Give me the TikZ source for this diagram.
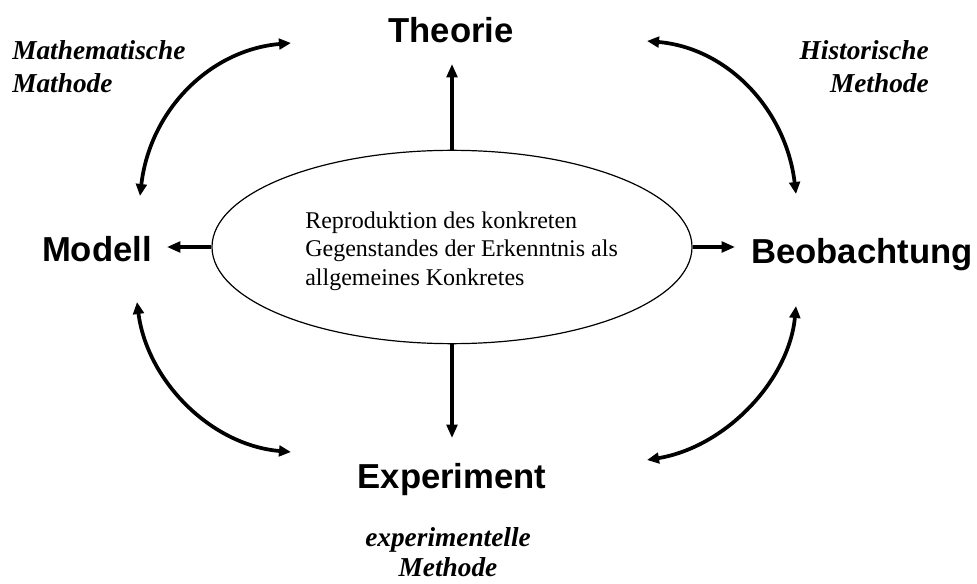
\documentclass[tikz,border=0pt]{standalone}
\usepackage{fontspec}
\setmainfont{Liberation Serif}
\newfontfamily\headfont{Liberation Sans}
\usetikzlibrary{arrows.meta,shapes.geometric}

\tikzset{
  heading/.style={font=\headfont\bfseries\fontsize{26}{30}\selectfont, inner sep=0pt, anchor=base},
  method/.style={font=\bfseries\itshape\fontsize{20.5}{24.8}\selectfont, inner sep=0pt},
  core/.style={draw, ellipse, line width=0.9pt, minimum width=360pt, minimum height=145pt, inner sep=0pt},
  radial/.style={line width=2.4pt, -{Triangle[length=10pt,width=8pt]}},
  swing/.style={line width=2.8pt, {Triangle[length=9pt,width=8pt]}-{Triangle[length=9pt,width=8pt]}}
}

\begin{document}
\begin{tikzpicture}[x=0.75pt,y=-0.75pt]
  \useasboundingbox (0,0) rectangle (977,584);

  % central ellipse with its text
  \node[core] (e) at (452,247) {};
  \node[anchor=west, align=left, inner sep=0pt,
        font=\fontsize{18}{21.5}\selectfont] (etext) at (305,251)
    {Reproduktion des konkreten\\Gegenstandes der Erkenntnis als\\allgemeines Konkretes};

  % the four poles
  \node[heading] (theorie) at (451,43) {Theorie};
  \node[heading] (modell) at (97,262) {Modell};
  \node[heading] (beob) at (862,264) {Beobachtung};
  \node[heading] (exp) at (452,488) {Experiment};

  % method labels
  \node[method, anchor=north west, align=left] (mat) at (12,40)
    {Mathematische\\Mathode};
  \node[method, anchor=north east, align=right] (hist) at (929,40)
    {Historische\\Methode};
  \node[method, anchor=north, align=center,
        font=\bfseries\itshape\fontsize{20.5}{22.5}\selectfont] (expm) at (448,527)
    {experimentelle\\Methode};

  % ends of the radial arrows
  \coordinate (tUp) at (452,64);
  \coordinate (tDown) at (452,438);
  \coordinate (tLeft) at (167,247);
  \coordinate (tRight) at (735,247);

  \draw[radial] (e.north) -- (tUp);
  \draw[radial] (e.south) -- (tDown);
  \draw[radial] (e.west) -- (tLeft);
  \draw[radial] (e.east) -- (tRight);

  % ends of the curved double arrows
  \coordinate (a1) at (291,43);
  \coordinate (a2) at (140,196);
  \coordinate (b1) at (647,41);
  \coordinate (b2) at (796,194);
  \coordinate (c1) at (137,302);
  \coordinate (c2) at (291,452);
  \coordinate (d1) at (796,306);
  \coordinate (d2) at (647,460);

  \draw[swing] (a1) .. controls (210,50) and (150,110) .. (a2);
  \draw[swing] (b1) .. controls (728,48) and (786,110) .. (b2);
  \draw[swing] (c1) .. controls (147,380) and (210,445) .. (c2);
  \draw[swing] (d1) .. controls (789,380) and (726,447) .. (d2);
\end{tikzpicture}
\end{document}
